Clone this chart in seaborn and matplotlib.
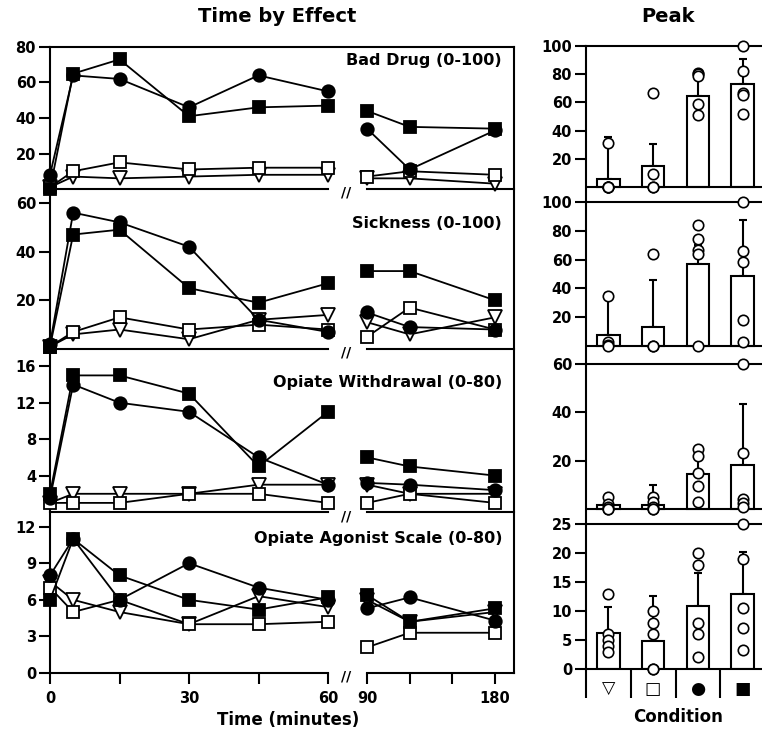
import numpy as np
import pandas as pd
import seaborn as sns
import matplotlib.pyplot as plt

sns.set_style("ticks")
plt.rcParams['font.family'] = ['DejaVu Sans']
plt.rcParams['font.weight'] = 'bold'
for key in ['text.color', 'axes.labelcolor', 'xtick.color', 'ytick.color', 'axes.edgecolor']:
    plt.rcParams[key] = 'black'

# time points (minutes)
times_early = [0, 5, 15, 30, 45, 60]
times_late = [90, 120, 180]

# time course per condition: [triangle, open square, circle, filled square]
bad_drug = [[1, 7, 6, 7, 8, 8, 6, 6, 3],
            [1, 10, 15, 11, 12, 12, 7, 10, 8],
            [8, 64, 62, 46, 64, 55, 34, 11, 33],
            [0, 65, 73, 41, 46, 47, 44, 35, 34]]
sickness = [[1, 6, 8, 4, 12, 14, 11, 6, 13],
            [1, 7, 13, 8, 10, 8, 5, 17, 8],
            [2, 56, 52, 42, 12, 7, 15, 9, 8],
            [1, 47, 49, 25, 19, 27, 32, 32, 20]]
withdrawal = [[1, 2, 2, 2, 3, 3, 3, 2, 2],
              [1, 1, 1, 2, 2, 1, 1, 2, 1],
              [1.5, 14, 12, 11, 6, 3, 3.2, 3, 2.4],
              [2, 15, 15, 13, 5, 11, 6, 5, 4]]
agonist = [[7.5, 6, 5, 4, 6.3, 5.4, 6, 4.2, 5],
           [7, 5, 6, 4, 4, 4.2, 2.1, 3.3, 3.3],
           [8, 11, 6, 9, 7, 6, 5.3, 6.2, 4.3],
           [6, 11, 8, 6, 5.2, 6.2, 6.4, 4.2, 5.3]]

effect_names = ["Bad Drug (0-100)", "Sickness (0-100)",
                "Opiate Withdrawal (0-80)", "Opiate Agonist Scale (0-80)"]
effects = [bad_drug, sickness, withdrawal, agonist]

# peak values
conditions = ["\u25BD", "\u25A1", "\u25CF", "\u25A0"]
bad_peak_pts = [[0, 0, 0, 0, 31], [0, 0, 9, 67], [81, 80, 79, 59, 51], [100, 82, 67, 65, 52]]
bad_peak_mean = [6, 15, 64.5, 73]
bad_peak_sd = [29.5, 15.5, 17, 18]
sick_peak_pts = [[35, 3, 1, 0], [64, 0, 0], [84, 74, 67, 64, 0], [100, 66, 58, 18, 3]]
sick_peak_mean = [7.6, 13, 57, 48.6]
sick_peak_sd = [29, 33, 13, 39]
wd_peak_pts = [[5, 2, 1, 0, 0], [5, 3, 1, 0, 0], [25, 22, 15, 9.5, 3], [60, 23, 4, 2.5, 1]]
wd_peak_mean = [1.7, 1.7, 14.5, 18.2]
wd_peak_sd = [1.5, 8.3, 8, 25.3]
ag_peak_pts = [[13, 6, 5, 4, 3], [10, 8, 6, 0, 0], [20, 18, 8, 6, 2], [25, 19, 10.5, 7, 3.3]]
ag_peak_mean = [6.2, 4.9, 10.9, 13]
ag_peak_sd = [4.5, 7.7, 5.7, 7.2]

peak_pts = [bad_peak_pts, sick_peak_pts, wd_peak_pts, ag_peak_pts]
peak_mean = [bad_peak_mean, sick_peak_mean, wd_peak_mean, ag_peak_mean]
peak_sd = [bad_peak_sd, sick_peak_sd, wd_peak_sd, ag_peak_sd]

W, H = 762, 737
fig = plt.figure(figsize=(W / 100, H / 100), dpi=100)


def box(x0, y0, x1, y1):
    return [x0 / W, 1 - y1 / H, (x1 - x0) / W, (y1 - y0) / H]


LW = 1.5
TICK_FS = 10.5
markers = ['v', 's', 'o', 's']
faces = ['white', 'white', 'black', 'black']
msizes = [9.5, 8, 9, 8.5]

# outer frame of the time course column
frame = fig.add_axes(box(50, 47, 514, 673))
frame.set_xticks([])
frame.set_yticks([])
frame.patch.set_visible(False)
frame.spines['bottom'].set_visible(False)
for s in ['left', 'right', 'top']:
    frame.spines[s].set_linewidth(LW)

row_edges = [47, 189, 349, 512, 673]
row_ylims = [(0, 80), (0, 65.7), (0, 17.9), (0, 13.2)]
row_yticks = [[20, 40, 60, 80], [20, 40, 60], [4, 8, 12, 16], [0, 3, 6, 9, 12]]

for i in range(4):
    top, bot = row_edges[i], row_edges[i + 1]
    axL = fig.add_axes(box(50, top, 328, bot))
    axR = fig.add_axes(box(367, top, 514, bot))
    for ax in (axL, axR):
        ax.patch.set_visible(False)
        for s in ['left', 'right', 'top']:
            ax.spines[s].set_visible(False)
        ax.spines['bottom'].set_linewidth(LW)
    for vals, m, fc, ms in zip(effects[i], markers, faces, msizes):
        kw = dict(color='black', marker=m, markersize=ms, markerfacecolor=fc,
                  markeredgecolor='black', markeredgewidth=1.3, linewidth=1.3,
                  clip_on=False)
        sns.lineplot(x=times_early, y=vals[:6], ax=axL, **kw)
        sns.lineplot(x=times_late, y=vals[6:], ax=axR, **kw)
    for ax in (axL, axR):
        ax.set_ylim(*row_ylims[i])
        ax.set_xlabel('')
        ax.set_ylabel('')
    axL.set_xlim(0, 60)
    axR.set_xlim(90, 193.4)
    axL.set_yticks(row_yticks[i])
    axL.tick_params(axis='y', direction='out', length=8, width=LW, labelsize=TICK_FS, pad=2)
    axR.set_yticks([])
    if i < 3:
        axL.set_xticks([])
        axR.set_xticks([])
    else:
        axL.set_xticks([0, 15, 30, 45, 60], ['0', '', '30', '', '60'])
        axR.set_xticks([90, 120, 150, 180], ['90', '', '', '180'])
        for ax in (axL, axR):
            ax.tick_params(axis='x', direction='out', length=8, width=LW, labelsize=TICK_FS, pad=5)
    fig.text(502 / W, 1 - [61, 223, 383, 538][i] / H, effect_names[i],
             ha='right', va='center', fontsize=11.5, fontweight='bold')
    fig.text(346 / W, 1 - (bot + 4) / H, '//', ha='center', va='center',
             fontsize=10, fontweight='bold')

# peak column
peak_boxes = [(46, 202), (202, 364), (364, 524), (524, 669)]
peak_ylims = [(-10.6, 100), (-12.5, 100), (-6.2, 60), (0, 25)]
peak_yticks = [[20, 40, 60, 80, 100], [20, 40, 60, 80, 100], [20, 40, 60], [0, 5, 10, 15, 20, 25]]

for i in range(4):
    top, bot = peak_boxes[i]
    ax = fig.add_axes(box(586, top, 765, bot))
    ax.patch.set_visible(False)
    sns.barplot(x=conditions, y=peak_mean[i], order=conditions, color='white',
                saturation=1, edgecolor='black', linewidth=LW, width=0.5,
                errorbar=None, ax=ax, zorder=2)
    ax.errorbar(np.arange(4), peak_mean[i], yerr=[np.zeros(4), peak_sd[i]],
                fmt='none', ecolor='black', elinewidth=LW, capsize=3, capthick=LW, zorder=1)
    df = pd.DataFrame({'cond': [conditions[k] for k, p in enumerate(peak_pts[i]) for _ in p],
                       'val': [v for p in peak_pts[i] for v in p]})
    sns.stripplot(data=df, x='cond', y='val', order=conditions, jitter=False,
                  color='white', edgecolor='black', linewidth=1.2, size=7.5,
                  ax=ax, clip_on=False, zorder=5)
    ax.set_xlim(-0.5, 3.5)
    ax.set_ylim(*peak_ylims[i])
    ax.set_xlabel('')
    ax.set_ylabel('')
    ax.spines['right'].set_visible(False)
    for s in ['left', 'top', 'bottom']:
        ax.spines[s].set_linewidth(LW)
    ax.set_yticks(peak_yticks[i])
    ax.tick_params(axis='y', direction='out', length=8, width=LW, labelsize=TICK_FS, pad=2)
    if i < 3:
        ax.spines['bottom'].set_visible(False)
        ax.axhline(0, color='black', lw=LW, zorder=3)
        ax.set_xticks([])
    else:
        ax.set_xticks(range(4), conditions)
        ax.tick_params(axis='x', which='major', length=0, labelsize=12.5, pad=8)
        ax.set_xticks([-0.5, 0.5, 1.5, 2.5, 3.5], minor=True)
        ax.tick_params(axis='x', which='minor', direction='out', length=21, width=LW)

fig.text(277 / W, 1 - 17 / H, 'Time by Effect', ha='center', va='center', fontsize=14, fontweight='bold')
fig.text(668 / W, 1 - 17 / H, 'Peak', ha='center', va='center', fontsize=14, fontweight='bold')
fig.text(288 / W, 1 - 720 / H, 'Time (minutes)', ha='center', va='center', fontsize=12, fontweight='bold')
fig.text(678 / W, 1 - 717 / H, 'Condition', ha='center', va='center', fontsize=12, fontweight='bold')

fig.savefig('out.png', dpi=100)
